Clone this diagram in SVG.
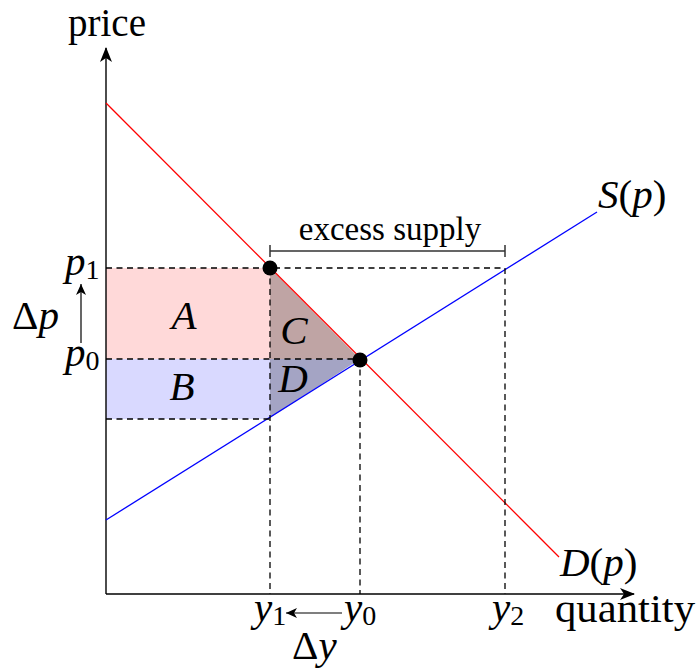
<svg xmlns="http://www.w3.org/2000/svg" width="699" height="669" viewBox="0 0 699 669">
<defs>
<marker id="arr" markerWidth="16" markerHeight="12" refX="14" refY="6" orient="auto" markerUnits="userSpaceOnUse">
<path d="M0,0 L15,6 L0,12 L4,6 Z" fill="#000"/>
</marker>
<marker id="arrs" markerWidth="12" markerHeight="10" refX="11" refY="5" orient="auto" markerUnits="userSpaceOnUse">
<path d="M0,0 L11,5 L0,10 L3,5 Z" fill="#000"/>
</marker>
</defs>
<style>
.m{font-style:italic;font-size:41px}
.sub{font-style:normal;font-size:28px}
.rm{font-size:39px}
.dash{stroke:#000;stroke-width:1.3;stroke-dasharray:6,4.5;fill:none}
.ax{stroke:#000;stroke-width:1.4;fill:none}
</style>
<g id="regions">
<rect id="A" x="106" y="268" width="164" height="91" fill="#ffd9d9"/>
<rect id="B" x="106" y="359" width="164" height="60" fill="#d9d9ff"/>
<polygon id="C" points="270,268 360,359 270,359" fill="#bfa4a4"/>
<polygon id="D" points="270,359 360,359 270,418" fill="#a4a4c4"/>
</g>
<g id="connectors">
<line class="ax" x1="106" y1="594" x2="106" y2="48" marker-end="url(#arr)"/>
<line class="ax" x1="106" y1="594" x2="634" y2="594" marker-end="url(#arr)"/>
<line x1="106" y1="103" x2="559" y2="557" stroke="#ff0000" stroke-width="1.3"/>
<line x1="106" y1="520" x2="597" y2="212" stroke="#0000ff" stroke-width="1.3"/>
<line class="dash" x1="106" y1="268" x2="505" y2="268"/>
<line class="dash" x1="106" y1="359" x2="360" y2="359"/>
<line class="dash" x1="106" y1="419" x2="270" y2="419"/>
<line class="dash" x1="270" y1="268" x2="270" y2="594"/>
<line class="dash" x1="360" y1="359" x2="360" y2="594"/>
<line class="dash" x1="505" y1="268" x2="505" y2="594"/>
<path d="M270,245 V257 M270,251 H505 M505,245 V257" stroke="#333" stroke-width="1.5" fill="none"/>
<line x1="81" y1="343" x2="81" y2="284" stroke="#000" stroke-width="1.2" marker-end="url(#arrs)"/>
<line x1="342" y1="613" x2="286" y2="613" stroke="#000" stroke-width="1.2" marker-end="url(#arrs)"/>
</g>
<g id="points">
<circle cx="270" cy="268" r="7.5" fill="#000"/>
<circle cx="360" cy="360" r="7.5" fill="#000"/>
</g>
<g id="labels" font-family="'Liberation Serif', 'DejaVu Serif', serif" fill="#000">
<text class="rm" x="107" y="36" text-anchor="middle">price</text>
<text class="rm" x="555" y="622" textLength="140" lengthAdjust="spacingAndGlyphs">quantity</text>
<text x="390" y="240" text-anchor="middle" font-size="33">excess supply</text>
<text class="m" x="65" y="275">p<tspan class="sub" dy="4">1</tspan></text>
<text class="m" x="65" y="366">p<tspan class="sub" dy="4">0</tspan></text>
<text class="m" x="12" y="329"><tspan font-style="normal">Δ</tspan>p</text>
<text class="m" x="184" y="329" text-anchor="middle">A</text>
<text class="m" x="182" y="400" text-anchor="middle">B</text>
<text class="m" x="294" y="344" text-anchor="middle">C</text>
<text class="m" x="293" y="392" text-anchor="middle">D</text>
<text class="m" x="598" y="208">S<tspan font-style="normal">(</tspan>p<tspan font-style="normal">)</tspan></text>
<text class="m" x="560" y="576">D<tspan font-style="normal">(</tspan>p<tspan font-style="normal">)</tspan></text>
<text class="m" x="254" y="621">y<tspan class="sub" dy="4">1</tspan></text>
<text class="m" x="344" y="621">y<tspan class="sub" dy="4">0</tspan></text>
<text class="m" x="492" y="621">y<tspan class="sub" dy="4">2</tspan></text>
<text class="m" x="292" y="659"><tspan font-style="normal">Δ</tspan>y</text>
</g>
</svg>
